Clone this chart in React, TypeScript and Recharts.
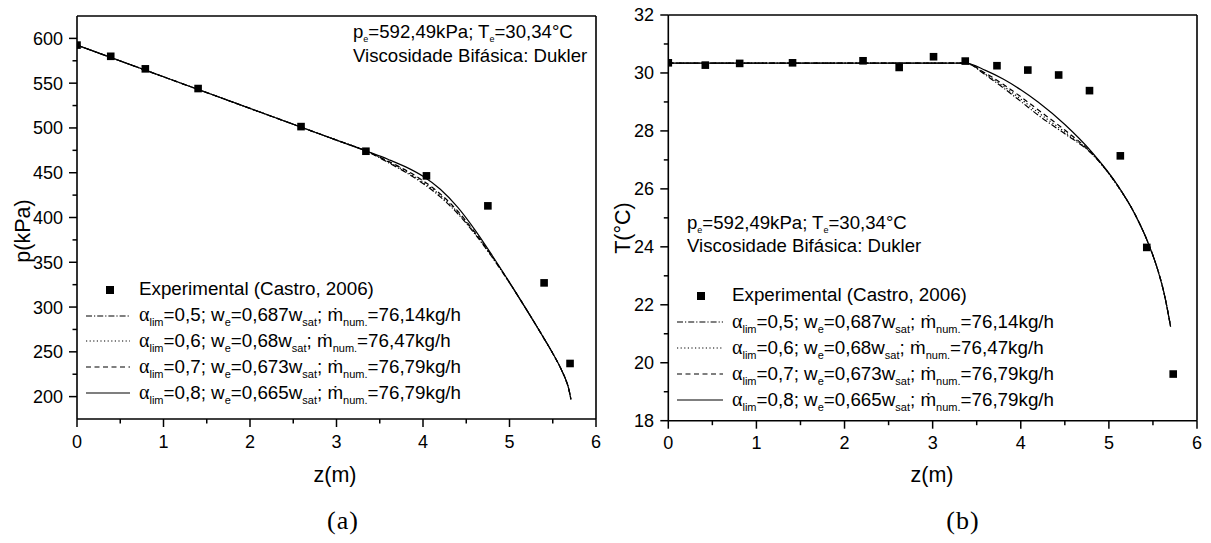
import React from 'react';
import { ComposedChart, Line, Scatter, XAxis, YAxis, ReferenceLine } from 'recharts';

const FONT = '"Liberation Sans", Arial, Helvetica, sans-serif';

// (a) pressure along the tube
const zExpA = [0, 0.39, 0.79, 1.4, 2.59, 3.34, 4.04, 4.75, 5.4, 5.7];
const pExp = [592.5, 580, 566, 544, 501.5, 474, 446.5, 413, 327, 237];

const zModA = [0, 1, 2, 3, 3.35, 3.6, 3.8, 4.0, 4.2, 4.4, 4.6, 4.8, 5.0, 5.2, 5.4, 5.5, 5.6, 5.65, 5.68, 5.71];
const pLim05 = [592.5, 557.1, 521.8, 486.4, 474, 461.3, 450.5, 438, 423, 404.5, 381.7, 355.6, 327.1, 296.6, 264.8, 248.3, 230, 219, 210.5, 197];
const pLim06 = [592.5, 557.1, 521.8, 486.4, 474, 462, 451.7, 439.6, 424.7, 405.9, 382.6, 356, 327.2, 296.6, 264.8, 248.3, 230, 219, 210.5, 197];
const pLim07 = [592.5, 557.1, 521.8, 486.4, 474, 462.7, 452.9, 441.2, 426.4, 407.3, 383.5, 356.4, 327.3, 296.6, 264.8, 248.3, 230, 219, 210.5, 197];
const pLim08 = [592.5, 557.1, 521.8, 486.4, 474, 464.8, 456.5, 446, 431.5, 411.5, 386.2, 357.6, 327.6, 296.6, 264.8, 248.3, 230, 219, 210.5, 197];

// (b) temperature along the tube
const zExpB = [0, 0.42, 0.81, 1.41, 2.21, 2.62, 3.01, 3.37, 3.73, 4.08, 4.43, 4.78, 5.13, 5.43, 5.73];
const tExp = [30.35, 30.27, 30.33, 30.35, 30.42, 30.19, 30.56, 30.41, 30.25, 30.1, 29.93, 29.39, 27.14, 23.98, 19.61];

const zModB = [0, 1, 2, 3, 3.37, 3.6, 3.8, 4.0, 4.2, 4.5, 4.8, 5.1, 5.3, 5.45, 5.55, 5.63, 5.7];
const tLim05 = [30.34, 30.34, 30.34, 30.34, 30.34, 29.93, 29.49, 29.02, 28.54, 27.9, 27.23, 26.1, 25.1, 24.1, 23.25, 22.35, 21.25];
const tLim06 = [30.34, 30.34, 30.34, 30.34, 30.34, 29.96, 29.55, 29.1, 28.63, 27.96, 27.24, 26.1, 25.1, 24.1, 23.25, 22.35, 21.25];
const tLim07 = [30.34, 30.34, 30.34, 30.34, 30.34, 29.99, 29.61, 29.18, 28.72, 28.03, 27.25, 26.11, 25.1, 24.1, 23.25, 22.35, 21.25];
const tLim08 = [30.34, 30.34, 30.34, 30.34, 30.34, 30.09, 29.79, 29.42, 28.99, 28.22, 27.29, 26.12, 25.1, 24.1, 23.25, 22.35, 21.25];

// legend texts
const alphaLim = ['0,5', '0,6', '0,7', '0,8'];
const wRatio = ['0,687', '0,68', '0,673', '0,665'];
const massFlow = ['76,14', '76,47', '76,79', '76,79'];
const dashes = ['6 2 1.2 2', '1.2 2.4', '5 3.5', undefined];

const xTicks = [0, 0.5, 1, 1.5, 2, 2.5, 3, 3.5, 4, 4.5, 5, 5.5, 6];
const pTicks = [200, 225, 250, 275, 300, 325, 350, 375, 400, 425, 450, 475, 500, 525, 550, 575, 600];
const tTicks = [18, 19, 20, 21, 22, 23, 24, 25, 26, 27, 28, 29, 30, 31, 32];

const zip = (xs: number[], ys: number[]) => xs.map((z, i) => ({ z, v: ys[i] }));

const isMultiple = (v: number, step: number) => Math.abs(v / step - Math.round(v / step)) < 1e-6;

const makeYTick = (axisX: number, step: number, labelRight: number) => (props: any) => {
  const { y, payload } = props;
  const major = isMultiple(payload.value, step);
  return (
    <g>
      <line x1={axisX} x2={axisX - (major ? 8 : 4.5)} y1={y} y2={y} stroke="#000" strokeWidth={1.5} />
      {major && (
        <text x={labelRight} y={y} dy="0.36em" textAnchor="end" fontSize={18} fontFamily={FONT} fill="#000">
          {payload.value}
        </text>
      )}
    </g>
  );
};

const makeXTick = (axisY: number, baseline: number) => (props: any) => {
  const { x, payload } = props;
  const major = isMultiple(payload.value, 1);
  return (
    <g>
      <line x1={x} x2={x} y1={axisY} y2={axisY + (major ? 8 : 4.5)} stroke="#000" strokeWidth={1.5} />
      {major && (
        <text x={x} y={baseline} textAnchor="middle" fontSize={18} fontFamily={FONT} fill="#000">
          {payload.value}
        </text>
      )}
    </g>
  );
};

const square = (p: any) => <rect x={p.cx - 3.8} y={p.cy - 3.8} width={7.6} height={7.6} fill="#000" />;

const Sub = ({ children, size = 11, drop = 5 }: { children: React.ReactNode; size?: number; drop?: number }) => (
  <span style={{ fontSize: size, position: 'relative', top: drop }}>{children}</span>
);

const Txt = ({ x, y, children, size = 18.8 }: { x: number; y: number; children: React.ReactNode; size?: number }) => (
  <div
    style={{
      position: 'absolute',
      left: x,
      top: y - size * 0.545,
      fontSize: size,
      lineHeight: `${size}px`,
      fontFamily: FONT,
      whiteSpace: 'nowrap',
      color: '#000',
    }}
  >
    {children}
  </div>
);

const Annotation = ({ x, y1, y2 }: { x: number; y1: number; y2: number }) => (
  <>
    <Txt x={x} y={y1} size={18.6}>
      p<Sub size={9} drop={4}>e</Sub>=592,49kPa; T<Sub size={9} drop={4}>e</Sub>=30,34°C
    </Txt>
    <Txt x={x} y={y2} size={18.6}>Viscosidade Bifásica: Dukler</Txt>
  </>
);

const LegendBlock = ({ sx, sw, tx, rows, mx }: { sx: number; sw: number; tx: number; rows: number[]; mx: number }) => (
  <>
    <div style={{ position: 'absolute', left: mx - 3.8, top: rows[0] - 3.8, width: 7.6, height: 7.6, background: '#000' }} />
    <Txt x={tx} y={rows[0]}>Experimental (Castro, 2006)</Txt>
    {alphaLim.map((a, i) => (
      <React.Fragment key={a + i}>
        <svg style={{ position: 'absolute', left: sx, top: rows[i + 1] - 2 }} width={sw} height={4}>
          <line x1={0} x2={sw} y1={2} y2={2} stroke="#000" strokeWidth={1.2} strokeDasharray={dashes[i]} />
        </svg>
        <Txt x={tx} y={rows[i + 1]}>
          <span style={{ fontFamily: '"Liberation Serif", "Times New Roman", serif', fontSize: 20 }}>α</span>
          <Sub>lim</Sub>={a}; w<Sub>e</Sub>={wRatio[i]}w<Sub>sat</Sub>; ṁ<Sub>num.</Sub>={massFlow[i]}kg/h
        </Txt>
      </React.Fragment>
    ))}
  </>
);

const AxisTitle = ({ cx, cy, rotate, children }: { cx: number; cy: number; rotate?: boolean; children: React.ReactNode }) => (
  <div
    style={{
      position: 'absolute',
      left: cx - 60,
      top: cy - 11,
      width: 120,
      height: 22,
      lineHeight: '22px',
      textAlign: 'center',
      fontSize: 21.5,
      fontFamily: FONT,
      transform: rotate ? 'rotate(-90deg)' : undefined,
      whiteSpace: 'nowrap',
    }}
  >
    {children}
  </div>
);

const Caption = ({ cx, children }: { cx: number; children: React.ReactNode }) => (
  <div
    style={{
      position: 'absolute',
      left: cx - 40,
      top: 508,
      width: 80,
      textAlign: 'center',
      fontSize: 26,
      lineHeight: '26px',
      fontFamily: '"Liberation Serif", "Times New Roman", serif',
      letterSpacing: 1,
    }}
  >
    {children}
  </div>
);

const lineSeries = (sets: number[][], zs: number[]) =>
  sets.map((vals, i) => (
    <Line
      key={i}
      data={zip(zs, vals)}
      dataKey="v"
      type="monotone"
      stroke="#000"
      strokeWidth={1.2}
      strokeDasharray={dashes[i]}
      dot={false}
      activeDot={false}
      isAnimationActive={false}
    />
  ));

const App = () => (
  <div style={{ position: 'absolute', left: 0, top: 0, width: 1211, height: 543, background: '#fff', overflow: 'hidden' }}>
    <div style={{ position: 'absolute', left: 0, top: 0 }}>
      <ComposedChart width={620} height={470} margin={{ top: 16, right: 24, bottom: 21, left: 17 }}>
        <XAxis
          dataKey="z"
          type="number"
          domain={[0, 6]}
          ticks={xTicks}
          interval={0}
          allowDataOverflow
          height={30}
          axisLine={{ stroke: '#000', strokeWidth: 1.6 }}
          tickLine={false}
          tick={makeXTick(419, 448)}
        />
        <YAxis
          dataKey="v"
          type="number"
          domain={[175, 625]}
          ticks={pTicks}
          interval={0}
          allowDataOverflow
          width={60}
          axisLine={{ stroke: '#000', strokeWidth: 1.6 }}
          tickLine={false}
          tick={makeYTick(77, 50, 63)}
        />
        <ReferenceLine y={625} stroke="#000" strokeWidth={1.6} />
        <ReferenceLine x={6} stroke="#000" strokeWidth={1.6} />
        {lineSeries([pLim05, pLim06, pLim07, pLim08], zModA)}
        <Scatter data={zip(zExpA, pExp)} dataKey="v" shape={square} isAnimationActive={false} />
      </ComposedChart>
    </div>
    <div style={{ position: 'absolute', left: 600, top: 0 }}>
      <ComposedChart width={611} height={472} margin={{ top: 15, right: 14, bottom: 21.3, left: 8.3 }}>
        <XAxis
          dataKey="z"
          type="number"
          domain={[0, 6]}
          ticks={xTicks}
          interval={0}
          allowDataOverflow
          height={30}
          axisLine={{ stroke: '#000', strokeWidth: 1.6 }}
          tickLine={false}
          tick={makeXTick(420.7, 449)}
        />
        <YAxis
          dataKey="v"
          type="number"
          domain={[18, 32]}
          ticks={tTicks}
          interval={0}
          allowDataOverflow
          width={60}
          axisLine={{ stroke: '#000', strokeWidth: 1.6 }}
          tickLine={false}
          tick={makeYTick(68.3, 2, 54)}
        />
        <ReferenceLine y={32} stroke="#000" strokeWidth={1.6} />
        <ReferenceLine x={6} stroke="#000" strokeWidth={1.6} />
        {lineSeries([tLim05, tLim06, tLim07, tLim08], zModB)}
        <Scatter data={zip(zExpB, tExp)} dataKey="v" shape={square} isAnimationActive={false} />
      </ComposedChart>
    </div>

    <Annotation x={353} y1={33} y2={57} />
    <Annotation x={687} y1={224} y2={247} />
    <LegendBlock sx={86} sw={44} tx={139} mx={110} rows={[290, 315.5, 341, 367, 393]} />
    <LegendBlock sx={677} sw={46} tx={732} mx={701} rows={[296, 322, 348, 374, 400]} />

    <AxisTitle cx={23} cy={231} rotate>p(kPa)</AxisTitle>
    <AxisTitle cx={623} cy={228} rotate>T(°C)</AxisTitle>
    <AxisTitle cx={335} cy={475}>z(m)</AxisTitle>
    <AxisTitle cx={932} cy={475}>z(m)</AxisTitle>
    <Caption cx={343}>(a)</Caption>
    <Caption cx={963}>(b)</Caption>
  </div>
);

export default App;
